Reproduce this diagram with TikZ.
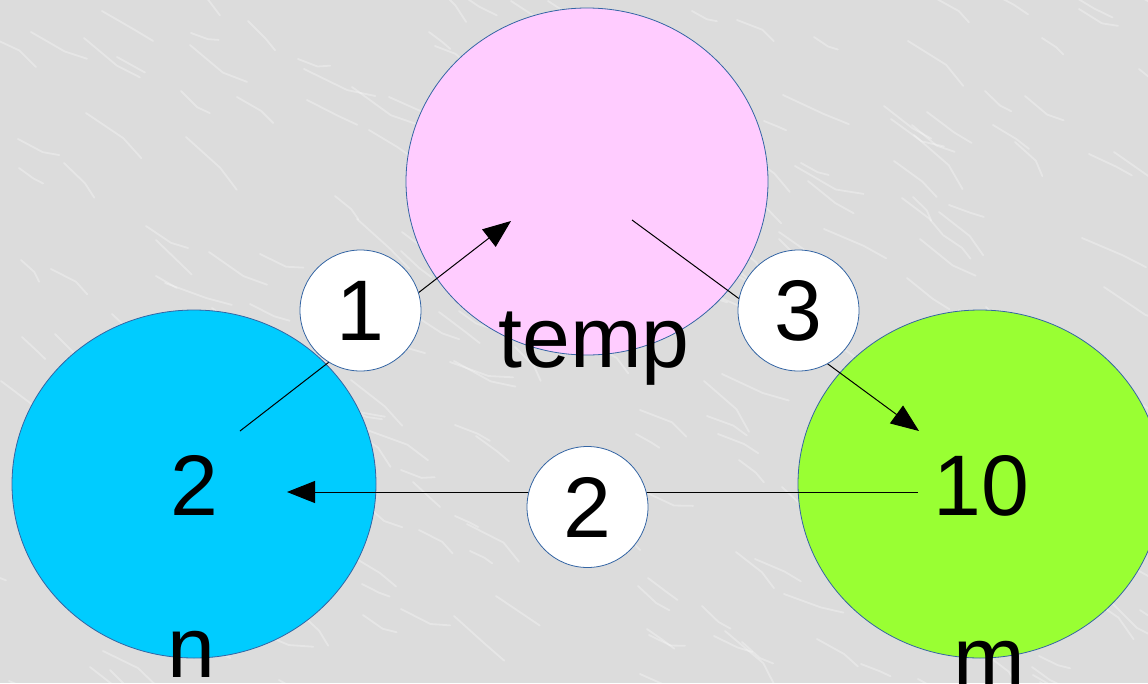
\documentclass[tikz,border=0pt]{standalone}
\usepackage{fontspec}
\setmainfont{Liberation Sans}
\usetikzlibrary{shapes.geometric,arrows.meta}
\definecolor{bgc}{HTML}{DCDCDC}
\definecolor{edge}{HTML}{3465A4}
\definecolor{pinkc}{HTML}{FFCCFF}
\definecolor{cyanc}{HTML}{00CCFF}
\definecolor{greenc}{HTML}{99FF33}
\tikzset{
  bigball/.style={ellipse, draw=edge, line width=0.8pt, minimum width=364pt, minimum height=348pt, inner sep=0pt},
  stepball/.style={circle, draw=edge, fill=white, line width=0.8pt, minimum size=121pt, inner sep=0pt, font=\fontsize{86}{100}\selectfont},
  lbl/.style={inner sep=0pt, anchor=base, font=\fontsize{86}{100}\selectfont},
  conn/.style={draw=black, line width=1pt, -{Triangle[length=28pt,width=22pt]}},
  vein/.style={white, opacity=0.3, line width=1.8pt, line cap=round, line join=round}
}
\begin{document}
\begin{tikzpicture}[x=1pt,y=-1pt]
\useasboundingbox (0,0) rectangle (1148,683);
\begin{scope}
\clip (0,0) rectangle (1148,683);
\fill[bgc] (0,0) rectangle (1148,683);
\pgfmathsetseed{7}
\foreach \i in {1,...,260}{
  \pgfmathsetmacro{\xa}{random(0,1180)-20}
  \pgfmathsetmacro{\ya}{random(0,710)-20}
  \pgfmathsetmacro{\ln}{random(15,50)}
  \pgfmathsetmacro{\an}{random(20,45)}
  \pgfmathsetmacro{\bn}{random(-25,25)}
  \draw[vein] (\xa,\ya) -- ++(\an:\ln) -- ++(\an+\bn:\ln*0.6);
}
\end{scope}
% big balls
\node[bigball, fill=pinkc, minimum width=362pt, minimum height=347pt] (temp) at (587,181.5) {};
\node[bigball, fill=cyanc] (n) at (194,484) {};
\node[bigball, fill=greenc] (m) at (980,484) {};
% connector end points
\coordinate (s1) at (240,431);
\coordinate (e1) at (511,221);
\coordinate (s3) at (632,220);
\coordinate (e3) at (919,431);
\coordinate (s2) at (918,492);
\coordinate (e2) at (287,492);
\draw[conn] (s1) -- (e1);
\draw[conn] (s3) -- (e3);
\draw[conn] (s2) -- (e2);
% step balls
\node[stepball] (b1) at (360.5,310.5) {1};
\node[stepball] (b3) at (798.5,310.5) {3};
\node[stepball] (b2) at (587.5,507) {2};
% labels
\node[lbl] (ltemp) at (594,367) {temp};
\node[lbl] (vn) at (194,515) {2};
\node[lbl] (vm) at (981,515) {10};
\node[lbl] (ln) at (191,677) {n};
\node[lbl] (lm) at (989,687) {m};
\end{tikzpicture}
\end{document}
